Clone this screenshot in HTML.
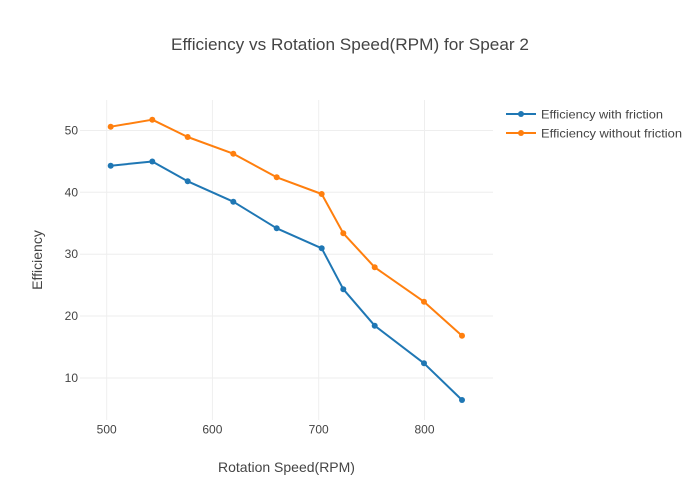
<!DOCTYPE html>
<html><head><meta charset="utf-8"><style>
html,body{margin:0;padding:0;background:#fff;}
svg{display:block;font-family:"Liberation Sans",sans-serif;}
</style></head><body>
<svg width="700" height="500" viewBox="0 0 700 500" xmlns="http://www.w3.org/2000/svg">
<rect width="700" height="500" fill="#fff"/>
<g stroke="#eeeeee" stroke-width="1">
<line x1="106.7" y1="100" x2="106.7" y2="420"/>
<line x1="212.4" y1="100" x2="212.4" y2="420"/>
<line x1="318.7" y1="100" x2="318.7" y2="420"/>
<line x1="424.5" y1="100" x2="424.5" y2="420"/>
<line x1="80" y1="130.5" x2="493" y2="130.5"/>
<line x1="80" y1="192.3" x2="493" y2="192.3"/>
<line x1="80" y1="254.2" x2="493" y2="254.2"/>
<line x1="80" y1="316" x2="493" y2="316"/>
<line x1="80" y1="378" x2="493" y2="378"/>
</g>
<g fill="#444" font-size="12" text-anchor="end">
<text x="78" y="134.5">50</text>
<text x="78" y="196.3">40</text>
<text x="78" y="258.2">30</text>
<text x="78" y="320">20</text>
<text x="78" y="382">10</text>
</g>
<g fill="#444" font-size="12" text-anchor="middle">
<text x="106.7" y="433.5">500</text>
<text x="212.4" y="433.5">600</text>
<text x="318.7" y="433.5">700</text>
<text x="424.5" y="433.5">800</text>
</g>
<text x="350" y="50" fill="#444" font-size="17" text-anchor="middle" textLength="358" lengthAdjust="spacingAndGlyphs">Efficiency vs Rotation Speed(RPM) for Spear 2</text>
<text x="286.5" y="472" fill="#444" font-size="14" text-anchor="middle">Rotation Speed(RPM)</text>
<text x="0" y="0" fill="#444" font-size="14" text-anchor="middle" transform="translate(42,260) rotate(-90)">Efficiency</text>
<polyline fill="none" stroke="#1f77b4" stroke-width="2" stroke-linejoin="round" points="110.7,165.7 152.3,161.5 187.7,181.3 233.3,201.7 276.7,228.3 321.7,248.3 343.3,289.2 374.7,325.7 424,363.3 462,400"/>
<g fill="#1f77b4">
<circle cx="110.7" cy="165.7" r="3"/><circle cx="152.3" cy="161.5" r="3"/><circle cx="187.7" cy="181.3" r="3"/><circle cx="233.3" cy="201.7" r="3"/><circle cx="276.7" cy="228.3" r="3"/><circle cx="321.7" cy="248.3" r="3"/><circle cx="343.3" cy="289.2" r="3"/><circle cx="374.7" cy="325.7" r="3"/><circle cx="424" cy="363.3" r="3"/><circle cx="462" cy="400" r="3"/>
</g>
<polyline fill="none" stroke="#ff7f0e" stroke-width="2" stroke-linejoin="round" points="110.7,126.7 152.3,119.7 187.7,137 233.3,153.7 276.7,177.3 321.7,194 343.3,233.3 374.7,267.3 424,301.7 462,335.7"/>
<g fill="#ff7f0e">
<circle cx="110.7" cy="126.7" r="3"/><circle cx="152.3" cy="119.7" r="3"/><circle cx="187.7" cy="137" r="3"/><circle cx="233.3" cy="153.7" r="3"/><circle cx="276.7" cy="177.3" r="3"/><circle cx="321.7" cy="194" r="3"/><circle cx="343.3" cy="233.3" r="3"/><circle cx="374.7" cy="267.3" r="3"/><circle cx="424" cy="301.7" r="3"/><circle cx="462" cy="335.7" r="3"/>
</g>
<line x1="506" y1="114" x2="536" y2="114" stroke="#1f77b4" stroke-width="2"/>
<circle cx="521" cy="114" r="3" fill="#1f77b4"/>
<text x="541" y="118.3" fill="#444" font-size="12" textLength="122" lengthAdjust="spacingAndGlyphs">Efficiency with friction</text>
<line x1="506" y1="133" x2="536" y2="133" stroke="#ff7f0e" stroke-width="2"/>
<circle cx="521" cy="133" r="3" fill="#ff7f0e"/>
<text x="541" y="137.3" fill="#444" font-size="12" textLength="141" lengthAdjust="spacingAndGlyphs">Efficiency without friction</text>
</svg>
</body></html>
